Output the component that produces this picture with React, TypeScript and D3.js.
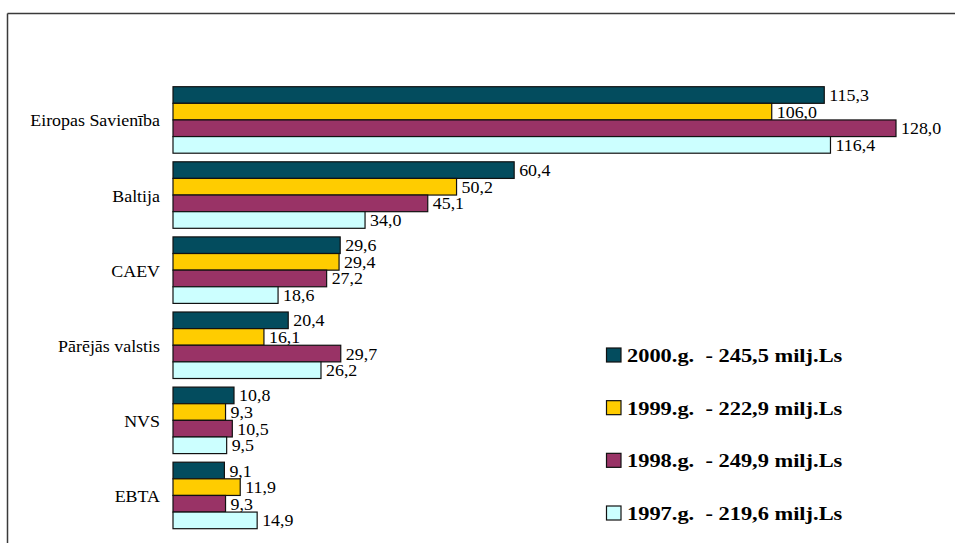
import React from "react";
import * as d3 from "d3";

const categories = ["Eiropas Savienība", "Baltija", "CAEV", "Pārējās valstis", "NVS", "EBTA"];
const seriesNames = ["2000.g.  - 245,5 milj.Ls", "1999.g.  - 222,9 milj.Ls", "1998.g.  - 249,9 milj.Ls", "1997.g.  - 219,6 milj.Ls"];
const values2000 = [115.3, 60.4, 29.6, 20.4, 10.8, 9.1];
const values1999 = [106.0, 50.2, 29.4, 16.1, 9.3, 11.9];
const values1998 = [128.0, 45.1, 27.2, 29.7, 10.5, 9.3];
const values1997 = [116.4, 34.0, 18.6, 26.2, 9.5, 14.9];
const seriesValues = [values2000, values1999, values1998, values1997];
const colors = ["#034c5e", "#ffcc00", "#993366", "#ccffff"];

const W = 955;
const H = 543;
const SX = 1.12;
const FONT = "Liberation Serif, Times New Roman, DejaVu Serif, serif";

export default function App() {
  const y = d3.scaleBand<string>().domain(categories).range([82.4, 533]).paddingInner(0.1145).paddingOuter(0.0573);
  const inner = d3.scaleBand<number>().domain([0, 1, 2, 3]).range([0, y.bandwidth()]);
  const x = d3.scaleLinear().domain([0, 128]).range([173, 896]);
  const fmt = (v: number) => v.toFixed(1).replace(".", ",");
  const legendY = d3.scalePoint<number>().domain([0, 1, 2, 3]).range([355, 513]);

  return (
    <svg width={W} height={H} style={{ position: "absolute", left: 0, top: 0, background: "#fff", fontFamily: FONT }}>
      <line x1={7.5} y1={13.5} x2={W} y2={13.5} stroke="#3a3a3a" strokeWidth={1.5} />
      <line x1={7.5} y1={13.5} x2={7.5} y2={H} stroke="#3a3a3a" strokeWidth={1.5} />
      {categories.map((c, ci) => {
        const gy = y(c)!;
        return (
          <g key={c}>
            <text transform={`translate(160,${gy + y.bandwidth() / 2 + 6.5}) scale(${SX},1)`} textAnchor="end" fontSize={16} fill="#000" style={{ fontFamily: FONT }}>{c}</text>
            {seriesValues.map((vals, si) => {
              const by = gy + inner(si)!;
              const bh = inner.bandwidth();
              const v = vals[ci];
              return (
                <g key={si}>
                  <rect x={x(0)} y={by} width={x(v) - x(0)} height={bh} fill={colors[si]} stroke="#111" strokeWidth={1.2} />
                  <text transform={`translate(${x(v) + 5},${by + bh / 2 + 6}) scale(${SX},1)`} fontSize={16} fill="#000" style={{ fontFamily: FONT }}>{fmt(v)}</text>
                </g>
              );
            })}
          </g>
        );
      })}
      {seriesNames.map((n, i) => {
        const cy = legendY(i)!;
        return (
          <g key={n}>
            <rect x={606.5} y={cy - 7} width={14.5} height={14} fill={colors[i]} stroke="#111" strokeWidth={1.2} />
            <text transform={`translate(627,${cy + 7}) scale(1.18,1)`} fontSize={19} fontWeight="bold" fill="#000" style={{ whiteSpace: "pre", fontFamily: FONT }}>{n}</text>
          </g>
        );
      })}
    </svg>
  );
}
